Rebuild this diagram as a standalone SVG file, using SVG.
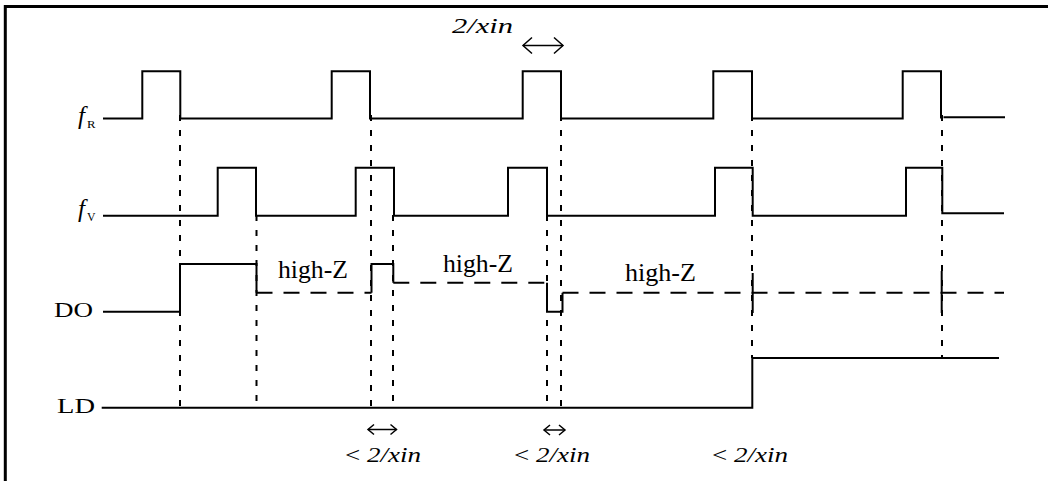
<svg xmlns="http://www.w3.org/2000/svg" width="1050" height="481" viewBox="0 0 1050 481">
  <style>
    .sig { fill: none; stroke: #000; stroke-width: 2; stroke-linejoin: miter; }
    .hz { fill: none; stroke: #000; stroke-width: 2; stroke-dasharray: 16 11; }
    .guide { fill: none; stroke: #000; stroke-width: 2; stroke-dasharray: 6 9; }
    .dim { fill: none; stroke: #000; stroke-width: 1.5; }
    .frame { fill: none; stroke: #000; stroke-width: 3; }
    text { font-family: 'Liberation Serif', 'Times New Roman', serif; fill: #000; }
    .it { font-style: italic; }
    .lbl { font-size: 20px; }
    .hzl { font-size: 25px; }
    .tm { font-size: 20px; }
  </style>
  <defs>
    <marker id="ahBig" markerUnits="userSpaceOnUse" markerWidth="14" markerHeight="20" viewBox="-2 -10 14 20" refX="9" refY="0" orient="auto-start-reverse">
      <path d="M0,-8 L9,0 L0,8" fill="none" stroke="#000" stroke-width="1.5"/>
    </marker>
    <marker id="ahSmall" markerUnits="userSpaceOnUse" markerWidth="10" markerHeight="14" viewBox="-2 -7 10 14" refX="6" refY="0" orient="auto-start-reverse">
      <path d="M0,-5 L6,0 L0,5" fill="none" stroke="#000" stroke-width="1.5"/>
    </marker>
  </defs>

  <g id="frame">
    <path class="frame" d="M1048,6.5 H5.3 V481"/>
  </g>

  <g id="connectors">
    <path class="guide" d="M180,115 V407"/>
    <path class="guide" d="M256.5,215 V407"/>
    <path class="guide" d="M371,115 V407"/>
    <path class="guide" d="M393,215 V407"/>
    <path class="guide" d="M547,215 V407"/>
    <path class="guide" d="M561,115 V407"/>
    <path class="guide" d="M752,115 V358"/>
    <path class="guide" d="M942,115 V358"/>
    <path class="dim" d="M523,45.5 H563" marker-start="url(#ahBig)" marker-end="url(#ahBig)"/>
    <path class="dim" d="M368,429.5 H396.5" marker-start="url(#ahSmall)" marker-end="url(#ahSmall)"/>
    <path class="dim" d="M544,430 H565" marker-start="url(#ahSmall)" marker-end="url(#ahSmall)"/>
  </g>

  <g id="fR">
    <path class="sig" d="M103,118.5 H142.3 V71.3 H180.3 V118.5 H331.7 V71.3 H370 V118.5 H522.7 V71.3 H561 V118.5 H713.3 V71.3 H752 V118.5 H902.7 V71.3 H941 V118.5"/>
    <path class="sig" d="M943.5,117.3 H1005"/>
    <text class="it" x="78" y="124" font-size="25" font-family="'Liberation Serif', serif">f</text>
    <text x="87" y="128.3" font-size="11" font-family="'Liberation Serif', serif" textLength="8.5" lengthAdjust="spacingAndGlyphs">R</text>
  </g>

  <g id="fV">
    <path class="sig" d="M103,215.7 H217.7 V167.7 H256 V215.7 H355.7 V167.7 H394 V215.7 H508 V167.7 H547 V215.7 H715 V167.7 H752.7 V215.7 H906 V167.7 H942.3 V213.3 H1004"/>
    <text class="it" x="78" y="217" font-size="25" font-family="'Liberation Serif', serif">f</text>
    <text x="87" y="220.7" font-size="11.5" font-family="'Liberation Serif', serif" textLength="8.5" lengthAdjust="spacingAndGlyphs">V</text>
  </g>

  <g id="DO">
    <path class="sig" d="M103,311.7 H180 V264 H256.5 V292.7"/>
    <path class="hz" d="M256.5,292.7 H371.5"/>
    <path class="sig" d="M371.5,292.7 V264 H393.3 V282.7"/>
    <path class="hz" d="M393.3,282.7 H547"/>
    <path class="sig" d="M547,282.7 V311.7 H562.5 V292.7"/>
    <path class="hz" d="M562.5,292.7 H1004"/>
    <path class="sig" d="M752.7,273 V313"/>
    <path class="sig" d="M941.7,271 V313"/>
    <text class="lbl" x="54" y="317" font-family="'Liberation Serif', serif" textLength="39" lengthAdjust="spacingAndGlyphs">DO</text>
    <text class="hzl" x="278" y="278" font-family="'Liberation Serif', serif" textLength="70" lengthAdjust="spacingAndGlyphs">high-Z</text>
    <text class="hzl" x="443" y="272" font-family="'Liberation Serif', serif" textLength="70" lengthAdjust="spacingAndGlyphs">high-Z</text>
    <text class="hzl" x="625" y="281" font-family="'Liberation Serif', serif" textLength="71" lengthAdjust="spacingAndGlyphs">high-Z</text>
  </g>

  <g id="LD">
    <path class="sig" d="M101.7,407.7 H752.3 V358 H999"/>
    <text class="lbl" x="57" y="412.7" font-family="'Liberation Serif', serif" textLength="38" lengthAdjust="spacingAndGlyphs">LD</text>
  </g>

  <g id="timing-labels">
    <text class="it" x="452" y="33.3" font-size="22" font-family="'Liberation Serif', serif" textLength="61" lengthAdjust="spacingAndGlyphs">2/xin</text>
    <text class="tm" x="345" y="461.7" font-family="'Liberation Serif', serif" textLength="76" lengthAdjust="spacingAndGlyphs">&lt; <tspan class="it">2/xin</tspan></text>
    <text class="tm" x="514" y="461.7" font-family="'Liberation Serif', serif" textLength="76" lengthAdjust="spacingAndGlyphs">&lt; <tspan class="it">2/xin</tspan></text>
    <text class="tm" x="712" y="462" font-family="'Liberation Serif', serif" textLength="76" lengthAdjust="spacingAndGlyphs">&lt; <tspan class="it">2/xin</tspan></text>
  </g>
</svg>
